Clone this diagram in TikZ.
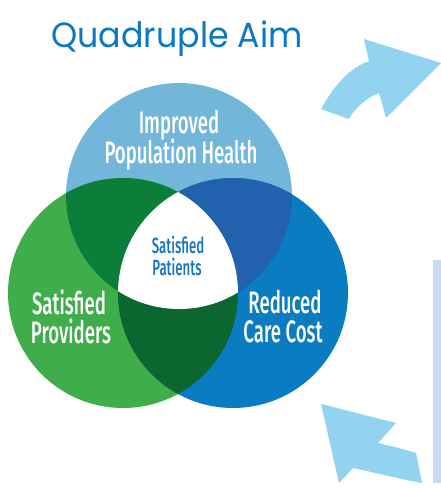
\documentclass[tikz,border=0pt]{standalone}
\usepackage{fontspec}
\newfontfamily\titlefont[FakeStretch=0.95]{Poppins}
\newfontfamily\condfont[FakeStretch=0.6]{Fira Sans Medium}
\definecolor{topc}{HTML}{72B6DA}
\definecolor{leftc}{HTML}{3FAE4A}
\definecolor{rightc}{HTML}{0A7DC2}
\definecolor{tlc}{HTML}{0B7F3A}
\definecolor{trc}{HTML}{2161AE}
\definecolor{lrc}{HTML}{0B672F}
\definecolor{titlec}{HTML}{0A78C2}
\definecolor{patc}{HTML}{1A75C0}
\definecolor{arrowc}{HTML}{92D3EF}
\definecolor{panelc}{HTML}{C6DCF0}
\begin{document}
\begin{tikzpicture}[x=1pt,y=-1pt,
  biglabel/.style={font=\condfont\fontsize{31}{31}\selectfont, text=white, inner sep=0pt, anchor=base, text height=20pt, text depth=5pt},
  smalllabel/.style={font=\condfont\fontsize{22}{22}\selectfont, text=patc, inner sep=0pt, anchor=base, text height=14pt, text depth=3pt},
  bigarrow/.style={fill=arrowc, draw=none}]
\useasboundingbox (0,0) rectangle (441,488);
\def\topC{(179,196) circle [radius=113pt]}
\def\leftC{(123,293) circle [radius=115pt]}
\def\rightC{(233,293) circle [radius=115pt]}
% circles
\fill[topc] \topC;
\fill[leftc] \leftC;
\fill[rightc] \rightC;
\begin{scope}\clip \topC; \fill[tlc] \leftC; \end{scope}
\begin{scope}\clip \topC; \fill[trc] \rightC; \end{scope}
\begin{scope}\clip \leftC; \fill[lrc] \rightC; \end{scope}
\begin{scope}\clip \topC; \clip \leftC; \fill[white] \rightC; \end{scope}
% title
\node[font=\titlefont\fontsize{35}{35}\selectfont, text=titlec, inner sep=0pt, anchor=base] (title) at (177,47) {Quadruple Aim};
% labels
\node[biglabel] (imp) at (179,133) {Improved};
\node[biglabel] (pop) at (181,163) {Population Health};
\node[biglabel] (sat1) at (69,314) {Satisfied};
\node[biglabel] (prov) at (71,343) {Providers};
\node[biglabel] (red) at (285,313) {Reduced};
\node[biglabel] (care) at (283,342) {Care Cost};
\node[smalllabel] (sat2) at (178,253) {Satisfied};
\node[smalllabel] (pat) at (177,275) {Patients};
% side panel
\fill[panelc] (433,260) rectangle (441,483);
% upper arrow
\fill[bigarrow] (321,109) .. controls (336,82) and (352,67) .. (369,61)
  -- (364,39) -- (441,63) -- (386,118) -- (379,93)
  .. controls (366,98) and (355,108) .. (349,119) -- cycle;
% lower arrow
\fill[bigarrow] (321,404) -- (396,423) -- (378,443)
  .. controls (391,446) and (404,449) .. (416,453)
  -- (422,483) .. controls (400,479) and (372,472) .. (353,468)
  -- (339,483) -- cycle;
\end{tikzpicture}
\end{document}
